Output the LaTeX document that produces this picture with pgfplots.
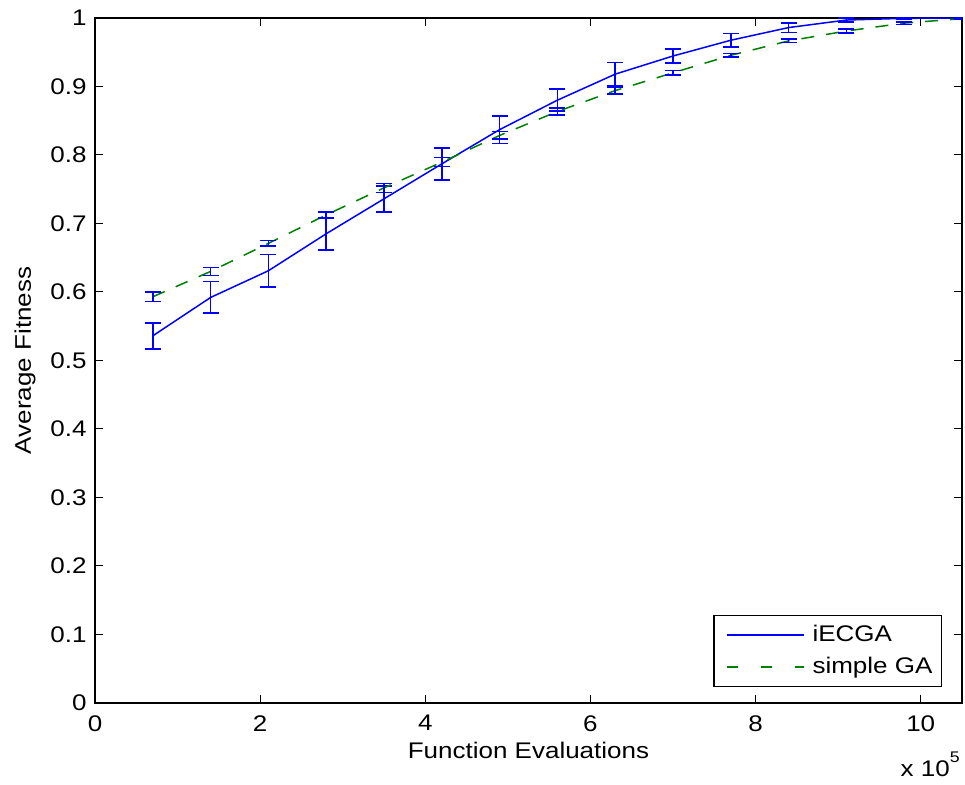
\documentclass[border=0pt]{standalone}
\usepackage{fontspec}
\setmainfont{Liberation Sans}[FakeStretch=1.15]
\usepackage{pgfplots}
\usepackage{pgfplotstable}
\pgfplotsset{compat=1.18}

\definecolor{mblue}{rgb}{0,0,1}
\definecolor{mgreen}{rgb}{0,0.5,0}

% mean fitness and half-width of the error bar, x in units of 1e5 evaluations
\pgfplotstableread{
x    y       e
0.7  0.536   0.019
1.4  0.592   0.023
2.1  0.631   0.024
2.8  0.685   0.024
3.5  0.736   0.019
4.2  0.787   0.0235
4.9  0.837   0.020
5.6  0.880   0.016
6.3  0.918   0.017
7.0  0.9445  0.0105
7.7  0.9675  0.0095
8.4  0.986   0.007
9.1  0.997   0.003
9.8  0.9995  0.001
10.5 1.0     0.0
}\iecga

\pgfplotstableread{
x    y       e
0.7  0.593   0.007
1.4  0.630   0.006
2.1  0.671   0.004
2.8  0.7125  0.0045
3.5  0.752   0.0065
4.2  0.7895  0.0065
4.9  0.8285  0.0055
5.6  0.8635  0.005
6.3  0.894   0.005
7.0  0.920   0.003
7.7  0.9455  0.0025
8.4  0.9665  0.0025
9.1  0.981   0.003
9.8  0.9925  0.002
10.5 0.999   0.001
}\simplega

\pgfplotsset{
  ebars/.style={
    error bars/.cd, y dir=both, y explicit,
    error bar style={mblue, solid, line width=0.75pt},
    error mark options={mblue, solid, line width=0.75pt, mark size=4pt, rotate=90}},
}

\begin{document}
\begin{tikzpicture}
\fontsize{11.3}{13.5}\selectfont
\useasboundingbox (-47.5pt,-41pt) rectangle (435pt,351.5pt);
\begin{axis}[
  at={(0,0)}, anchor=south west,
  scale only axis, width=433.5pt, height=342.5pt,
  xmin=0, xmax=10.5, ymin=0, ymax=1,
  xtick={0,2,4,6,8,10},
  xticklabels={0,2,4,6,8,10},
  ytick={0,0.1,0.2,0.3,0.4,0.5,0.6,0.7,0.8,0.9,1},
  yticklabels={0,0.1,0.2,0.3,0.4,0.5,0.6,0.7,0.8,0.9,1},
  tick align=inside,
  major tick length=4pt,
  every tick/.style={black, line width=0.5pt},
  axis line style={black, line width=0.9pt},
  xticklabel style={anchor=north, inner sep=0pt, yshift=-6pt},
  yticklabel style={anchor=east, inner sep=0pt, xshift=-4pt},
  xlabel={Function Evaluations},
  xlabel style={at={(axis description cs:0.5,0)}, anchor=base, inner sep=0pt, yshift=-28pt},
  ylabel={Average Fitness},
  ylabel style={at={(axis description cs:-0.0807,0.5)}, anchor=center, inner sep=0pt},
  legend style={at={(rel axis cs:1,0)}, anchor=south east, xshift=-10pt, yshift=8pt,
    draw=black, line width=0.6pt, inner xsep=3pt, inner ysep=3.65pt,
    row sep=4.3pt, column sep=2.5pt,
    nodes={inner xsep=1.5pt, inner ysep=1pt},
    font=\fontsize{11.3}{13.5}\selectfont},
  legend cell align=left,
  legend image code/.code={\path (0pt,0pt); \draw[#1] (3pt,0pt) -- (41.5pt,0pt);},
]
% iECGA: solid line with error bars
\addplot[mblue, line width=0.75pt, forget plot, ebars]
  table[x=x, y=y, y error=e] {\iecga};
% simple GA: dashed line
\addplot[mgreen, line width=0.75pt, dash pattern=on 6.5pt off 6pt, forget plot]
  table[x=x, y=y] {\simplega};
% simple GA: error bars only (no connecting line)
\addplot[draw=none, mark=none, forget plot, ebars]
  table[x=x, y=y, y error=e] {\simplega};
% legend keys
\addlegendimage{mblue, line width=0.75pt}
\addlegendentry{iECGA}
\addlegendimage{mgreen, line width=0.75pt, dash pattern=on 5.5pt off 11.5pt}
\addlegendentry{simple GA}
\end{axis}
\node[anchor=base east, inner sep=0pt] at ([xshift=-1pt, yshift=-37pt]current axis.south east)
  {x 10\raisebox{7pt}{\fontsize{7.7}{9}\selectfont 5}};
\end{tikzpicture}
\end{document}
